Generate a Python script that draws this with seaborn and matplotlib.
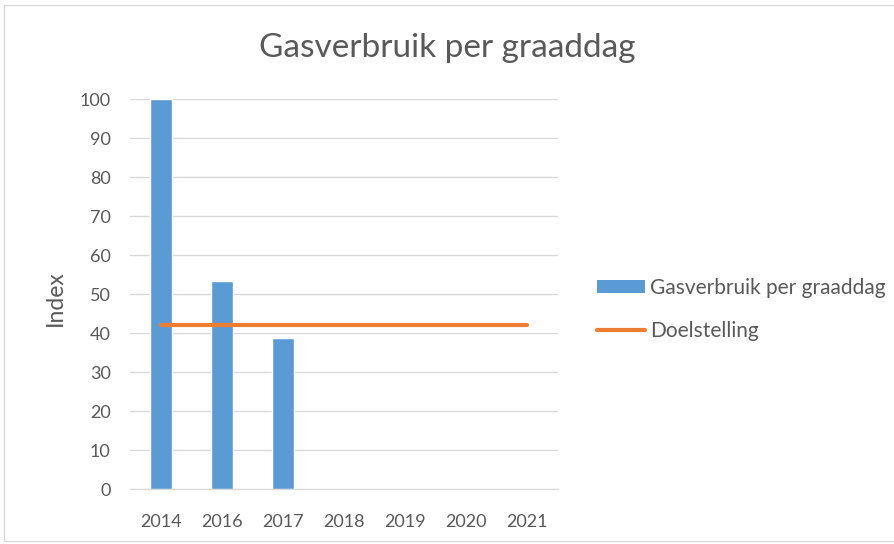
import numpy as np
import pandas as pd
import seaborn as sns
from matplotlib import pyplot as plt
from matplotlib.patches import Patch
from matplotlib.lines import Line2D

sns.set_style("white")
plt.rcParams["font.family"] = ["Lato", "DejaVu Sans"]

years = ["2014", "2016", "2017", "2018", "2019", "2020", "2021"]
gasverbruik = [100, 53.3, 38.7, np.nan, np.nan, np.nan, np.nan]
doelstelling = [42, 42, 42, 42, 42, 42, 42]

blue = "#5B9BD5"
orange = "#ED7D31"
grey = "#595959"

df = pd.DataFrame({"jaar": years, "gas": gasverbruik, "doel": doelstelling})

fig = plt.figure(figsize=(8.95, 5.44), dpi=100)
ax = fig.add_axes([0.1453, 0.1011, 0.4777, 0.7169])

sns.barplot(data=df, x="jaar", y="gas", order=years, color=blue,
            width=0.36, saturation=1, ax=ax, zorder=3)
sns.pointplot(data=df, x="jaar", y="doel", order=years, color=orange,
              markers="", linewidth=3, ax=ax, zorder=4)

ax.set_ylim(0, 100)
ax.set_xlim(-0.5, 6.5)
ax.set_yticks(range(0, 101, 10))
ax.yaxis.grid(True, color="#D9D9D9", linewidth=1, zorder=0)
ax.set_axisbelow(True)
for side in ["top", "right", "left"]:
    ax.spines[side].set_visible(False)
ax.spines["bottom"].set_color("#D9D9D9")
ax.tick_params(axis="both", length=0, labelsize=13, colors=grey)
ax.tick_params(axis="x", pad=18)
ax.tick_params(axis="y", pad=14)
ax.set_xlabel("")
ax.set_ylabel("Index", fontsize=16.5, color=grey, labelpad=10)
ax.yaxis.label.set_y(0.49)

fig.text(0.5, 0.912, "Gasverbruik per graaddag", ha="center", va="center",
         fontsize=24, color=grey)

handles = [Patch(facecolor=blue, edgecolor="none"),
           Line2D([0], [0], color=orange, linewidth=3)]
fig.legend(handles, ["Gasverbruik per graaddag", "Doelstelling"],
           loc="center left", bbox_to_anchor=(0.667, 0.431), frameon=False,
           fontsize=15, labelcolor=grey, handlelength=2.3, handleheight=0.6,
           handletextpad=0.25, labelspacing=1.1, borderpad=0, borderaxespad=0)

border = plt.Rectangle((0.005, 0.005), 0.995, 0.985, transform=fig.transFigure,
                       fill=False, edgecolor="#D9D9D9", linewidth=1)
fig.add_artist(border)

fig.savefig("out.png", dpi=100)
